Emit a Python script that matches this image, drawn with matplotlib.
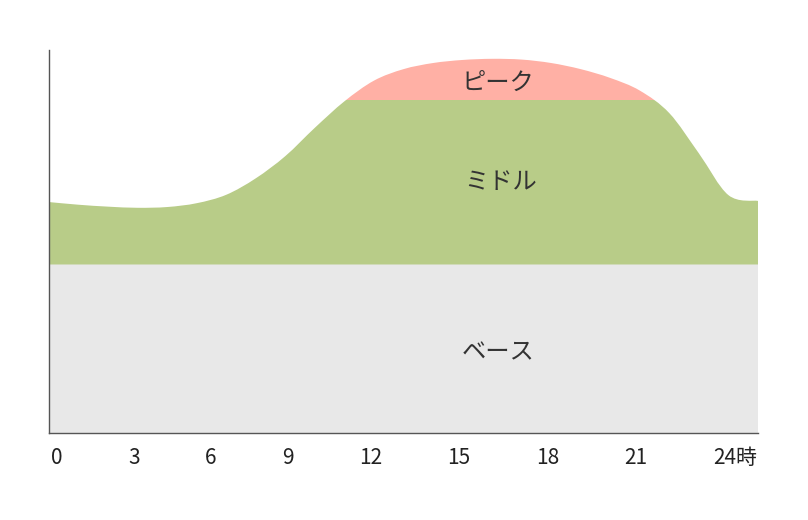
import matplotlib
matplotlib.use("Agg")
import matplotlib.pyplot as plt
from matplotlib.path import Path
from matplotlib.patches import PathPatch, Rectangle

plt.rcParams['font.family'] = ['Noto Sans CJK JP', 'DejaVu Sans']

# 時間ごとの電力需要 (0-100 の相対値)
hours = list(range(25))
demand = [60.3, 59.6, 59.1, 58.8, 59.0, 60.0, 62.2, 66.5, 72.3, 79.7,
          86.6, 92.0, 95.0, 96.6, 97.4, 97.7, 97.5, 96.6, 95.0, 92.7,
          89.4, 83.5, 73.0, 62.1, 60.6]
base_level = 44
middle_cap = 87
band_names = ['ピーク', 'ミドル', 'ベース']
band_label_pos = [(15.2, 91.4), (15.3, 65.6), (15.2, 21.2)]
tick_labels = ['0', '3', '6', '9', '12', '15', '18', '21', '24時']

colors = {'base': '#e8e8e8', 'middle': '#b8cc88', 'peak': '#ffb0a5'}


def smooth_area(x, y, bottom):
    # catmull-rom を3次ベジェにして滑らかな面を作る
    n = len(x)
    verts = [(x[0], bottom), (x[0], y[0])]
    codes = [Path.MOVETO, Path.LINETO]
    for i in range(n - 1):
        a = max(i - 1, 0)
        d = min(i + 2, n - 1)
        c1 = (x[i] + (x[i + 1] - x[a]) / 6, y[i] + (y[i + 1] - y[a]) / 6)
        c2 = (x[i + 1] - (x[d] - x[i]) / 6, y[i + 1] - (y[d] - y[i]) / 6)
        verts += [c1, c2, (x[i + 1], y[i + 1])]
        codes += [Path.CURVE4] * 3
    verts += [(x[-1], bottom), (x[0], bottom)]
    codes += [Path.LINETO, Path.CLOSEPOLY]
    return Path(verts, codes)


fig = plt.figure(figsize=(8.08, 5.2), dpi=100)
ax = fig.add_axes([49 / 808, 87 / 520, 709 / 808, 383 / 520])
ax.set_xlim(0, 24)
ax.set_ylim(0, 100)

area = smooth_area(hours, demand, base_level)

ax.add_patch(Rectangle((0, 0), 24, base_level, facecolor=colors['base'], lw=0))

mid = PathPatch(area, facecolor=colors['middle'], lw=0)
ax.add_patch(mid)
mid.set_clip_path(Rectangle((0, 0), 24, middle_cap, transform=ax.transData))

peak = PathPatch(area, facecolor=colors['peak'], lw=0)
ax.add_patch(peak)
peak.set_clip_path(Rectangle((0, middle_cap), 24, 100, transform=ax.transData))

for name, (hx, hy) in zip(band_names, band_label_pos):
    ax.text(hx, hy, name, ha='center', va='center', fontsize=17.5, color='#333333')

for s in ['top', 'right']:
    ax.spines[s].set_visible(False)
for s in ['left', 'bottom']:
    ax.spines[s].set_color('#555555')
    ax.spines[s].set_linewidth(1)
ax.set_xticks([])
ax.set_yticks([])

# 目盛りラベルは両端揃えで均等に並べる
texts = [fig.text(0, 0, t, fontsize=15, color='#222222', va='center', ha='left')
         for t in tick_labels]
fig.canvas.draw()
r = fig.canvas.get_renderer()
widths = [t.get_window_extent(r).width for t in texts]
left = ax.get_window_extent(r).x0 + 2
right = ax.get_window_extent(r).x1 - 1
gap = (right - left - sum(widths)) / (len(texts) - 1)
x = left
y_px = 520 - 458
for t, w in zip(texts, widths):
    t.set_position((x / 808, y_px / 520))
    x += w + gap

fig.savefig('out.png', dpi=100)
